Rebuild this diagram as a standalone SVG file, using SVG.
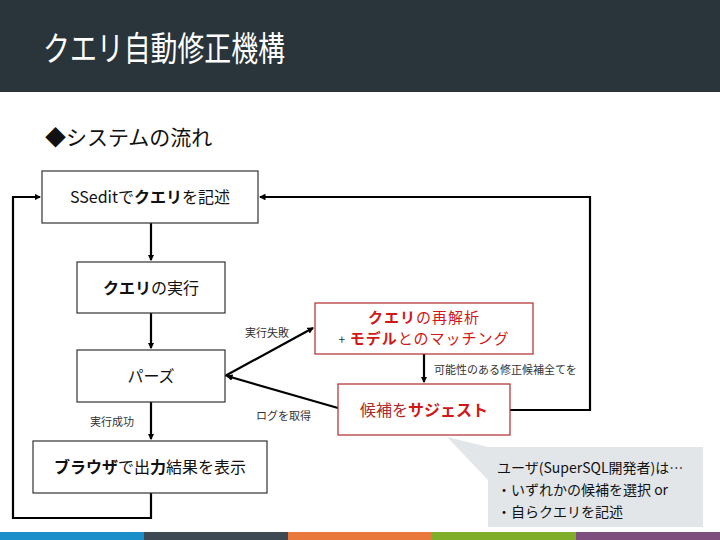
<svg xmlns="http://www.w3.org/2000/svg" width="720" height="540" viewBox="0 0 720 540">
<style>
text{font-family:"Noto Sans CJK JP","Liberation Sans",sans-serif;}
.box{fill:#fff;stroke:#333;stroke-width:1.2;}
.rbox{fill:#fff;stroke:#b02a2a;stroke-width:1.2;}
.t{font-size:16px;fill:#111;}
.b{font-weight:bold;}
.lbl{font-size:11px;fill:#333;}
.red{fill:#d01818;}
.dred{fill:#b02a2a;}
.con{fill:none;stroke:#000;stroke-width:2.2;}
</style>
<defs>
<marker id="ah" viewBox="0 0 6 6" refX="5" refY="3" markerWidth="3" markerHeight="3" orient="auto">
<path d="M0,0 L6,3 L0,6 Z" fill="#000"/>
</marker>
</defs>
<rect x="0" y="0" width="720" height="92" fill="#29343b"/>
<text x="43" y="61" font-size="34" fill="#fff" textLength="242" lengthAdjust="spacingAndGlyphs">クエリ自動修正機構</text>
<text x="45" y="145" font-size="21" fill="#111">◆システムの流れ</text>

<g id="connectors">
<line class="con" x1="151" y1="223" x2="151" y2="260" marker-end="url(#ah)"/>
<line class="con" x1="151" y1="313" x2="151" y2="348" marker-end="url(#ah)"/>
<line class="con" x1="151" y1="402" x2="151" y2="439" marker-end="url(#ah)"/>
<polyline class="con" points="151,493 151,518 13,518 13,197 40,197" marker-end="url(#ah)"/>
<line class="con" x1="225" y1="376" x2="313" y2="328" marker-end="url(#ah)"/>
<line class="con" x1="338" y1="408" x2="227" y2="376" marker-end="url(#ah)"/>
<line class="con" x1="424" y1="354" x2="424" y2="382" marker-end="url(#ah)"/>
<polyline class="con" points="510,410 590,410 590,197 260,197" marker-end="url(#ah)"/>
<text class="lbl" x="245" y="337">実行失敗</text>
<text class="lbl" x="434" y="374">可能性のある修正候補全てを</text>
<text class="lbl" x="256" y="420">ログを取得</text>
<text class="lbl" x="90" y="426">実行成功</text>
</g>

<g id="n1">
<rect class="box" x="42" y="171" width="216" height="52"/>
<text class="t" x="150" y="203" text-anchor="middle" font-size="15">SSeditで<tspan class="b">クエリ</tspan>を記述</text>
</g>
<g id="n2">
<rect class="box" x="77" y="262" width="148" height="51"/>
<text class="t" x="151" y="294" text-anchor="middle"><tspan class="b">クエリ</tspan>の実行</text>
</g>
<g id="n3">
<rect class="box" x="77" y="350" width="148" height="52"/>
<text class="t" x="151" y="382" text-anchor="middle">パーズ</text>
</g>
<g id="n4">
<rect class="box" x="33" y="441" width="234" height="52"/>
<text class="t" x="150" y="473" text-anchor="middle"><tspan class="b">ブラウザ</tspan>で出<tspan class="b">力</tspan>結果を表示</text>
</g>
<g id="n5">
<rect class="rbox" x="315" y="303" width="218" height="51"/>
<text class="red" x="424" y="323" text-anchor="middle" font-size="15" letter-spacing="1"><tspan class="b">クエリ</tspan>の再解析</text>
<text class="red" x="424" y="344" text-anchor="middle" font-size="15" letter-spacing="1"><tspan fill="#333" font-size="12">+ </tspan><tspan class="b">モデル</tspan>とのマッチング</text>
</g>
<g id="n6">
<rect class="rbox" x="338" y="384" width="172" height="51"/>
<text class="t" x="424" y="416" text-anchor="middle" font-size="17"><tspan class="dred">候補を</tspan><tspan class="red b">サジェスト</tspan></text>
</g>
<g id="callout">
<polygon points="447,437 488,447 488,480" fill="#e2e6e9"/>
<rect x="488" y="447" width="215" height="80" fill="#e2e6e9"/>
<text x="497" y="473" font-size="14" fill="#111">ユーザ(SuperSQL開発者)は…</text>
<text x="497" y="495" font-size="14" fill="#111">・いずれかの候補を選択 or</text>
<text x="497" y="517" font-size="14" fill="#111">・自らクエリを記述</text>
</g>

<rect x="0" y="532" width="144" height="8" fill="#1b8fc9"/>
<rect x="144" y="532" width="144" height="8" fill="#3e4a53"/>
<rect x="288" y="532" width="144" height="8" fill="#e8783c"/>
<rect x="432" y="532" width="144" height="8" fill="#7fae2a"/>
<rect x="576" y="532" width="144" height="8" fill="#7e4e7f"/>
</svg>
